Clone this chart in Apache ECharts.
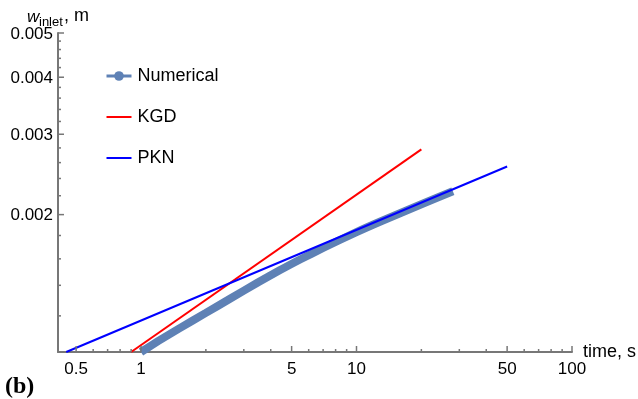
<!DOCTYPE html>
<html>
<head>
<meta charset="utf-8">
<script src="https://cdn.jsdelivr.net/npm/echarts@6/dist/echarts.min.js"></script>
<style>
  html, body { margin: 0; padding: 0; background: #fff; }
  #chart { width: 638px; height: 399px; }
</style>
</head>
<body>
<div id="chart"></div>
<script>
// inlet width (m) vs time (s), both axes log
const numerical = [[1.0, 0.001], [1.2, 0.001056], [1.5, 0.001125], [2, 0.001218], [2.6, 0.00131],
  [3.5, 0.001422], [4.4, 0.00151], [5.5, 0.001597], [7, 0.00169], [10, 0.001831],
  [13, 0.001934], [20, 0.002108], [28, 0.002251]];
const kgd = [[0.9, 0.001], [20, 0.00278]];
const pkn = [[0.45, 0.001], [50, 0.00255]];

const X_MIN = 0.412, X_MAX = 100;
const Y_MIN = 0.001, Y_MAX = 0.005;
const xMajorTicks = [0.5, 1, 5, 10, 50, 100];
const xMinorTicks = [0.6, 0.7, 0.8, 0.9, 2, 3, 4, 6, 7, 8, 9, 20, 30, 40, 60, 70, 80, 90];
const yMajorTicks = [0.002, 0.003, 0.004, 0.005];
const yMinorTicks = [0.0012, 0.0014, 0.0016, 0.0018, 0.0022, 0.0024, 0.0026, 0.0028,
  0.0032, 0.0034, 0.0036, 0.0038, 0.0042, 0.0044, 0.0046, 0.0048];

const AXIS = "#777777";
const FONT = '"Liberation Sans", Arial, sans-serif';

// log axes only give ticks at powers of 10, so ticks + labels go through a custom series
function tickSeries(axis, major, minor) {
  const items = major.map((v) => [v, 1]).concat(minor.map((v) => [v, 0]));
  return {
    type: "custom",
    silent: true,
    clip: false,
    z: 5,
    data: items.map((d) => (axis === "x" ? [d[0], Y_MIN, d[1]] : [X_MIN, d[0], d[1]])),
    encode: { x: 0, y: 1 },
    renderItem(params, api) {
      const isMajor = api.value(2) === 1;
      const v = axis === "x" ? api.value(0) : api.value(1);
      const p = api.coord([api.value(0), api.value(1)]);
      const len = isMajor ? 6 : 3;
      const children = [];
      if (axis === "x") {
        children.push({ type: "line", shape: { x1: p[0], y1: p[1], x2: p[0], y2: p[1] - len },
          style: { stroke: AXIS, lineWidth: 1.5 } });
        if (isMajor) children.push({ type: "text", x: p[0], y: p[1] + 9,
          style: { text: String(v), fill: "#000", font: "17px " + FONT, align: "center", verticalAlign: "top" } });
      } else {
        children.push({ type: "line", shape: { x1: p[0], y1: p[1], x2: p[0] + len, y2: p[1] },
          style: { stroke: AXIS, lineWidth: 1.5 } });
        if (isMajor) children.push({ type: "text", x: p[0] - 5, y: p[1] + 1,
          style: { text: String(v), fill: "#000", font: "17px " + FONT, align: "right", verticalAlign: "middle" } });
      }
      return { type: "group", children };
    },
  };
}

const chart = echarts.init(document.getElementById("chart"), null, { renderer: "canvas" });
const lineIcon = "path://M0,0L25,0L25,2L0,2Z";

chart.setOption({
  animation: false,
  backgroundColor: "#fff",
  textStyle: { fontFamily: FONT },
  grid: { left: 58, right: 66, top: 33, bottom: 47 },
  xAxis: {
    type: "log", min: X_MIN, max: X_MAX,
    axisLine: { lineStyle: { color: AXIS, width: 2 } },
    axisTick: { show: false }, axisLabel: { show: false }, splitLine: { show: false },
  },
  yAxis: {
    type: "log", min: Y_MIN, max: Y_MAX,
    axisLine: { lineStyle: { color: AXIS, width: 2 } },
    axisTick: { show: false }, axisLabel: { show: false }, splitLine: { show: false },
  },
  legend: {
    orient: "vertical", left: 100, top: 62,
    itemWidth: 25, itemHeight: 12, itemGap: 23,
    textStyle: { fontSize: 18, color: "#000", fontFamily: FONT, padding: [0, 0, 0, 1] },
    data: [
      { name: "Numerical", lineStyle: { width: 3 } },
      { name: "KGD", icon: lineIcon },
      { name: "PKN", icon: lineIcon },
    ],
  },
  graphic: [
    { type: "text", left: 27, top: 9, style: { text: "w", font: "italic 17px " + FONT, fill: "#000" } },
    { type: "text", left: 39, top: 16, style: { text: "inlet", font: "13px " + FONT, fill: "#000" } },
    { type: "text", left: 64, top: 7, style: { text: ", m", font: "18px " + FONT, fill: "#000" } },
    { type: "text", left: 583, top: 343, style: { text: "time, s", font: "18px " + FONT, fill: "#000" } },
    { type: "text", left: 5, top: 375, style: { text: "(b)", font: 'bold 24px "Liberation Serif", serif', fill: "#000" } },
  ],
  series: [
    {
      name: "Numerical", type: "line", data: numerical,
      smooth: 0.2, showSymbol: false, symbol: "circle",
      lineStyle: { width: 8, color: "#5e81b5" }, itemStyle: { color: "#5e81b5" }, z: 2,
    },
    {
      name: "KGD", type: "line", data: kgd, symbol: "none",
      lineStyle: { width: 2, color: "#ff0000" }, itemStyle: { color: "#ff0000" }, z: 3,
    },
    {
      name: "PKN", type: "line", data: pkn, symbol: "none",
      lineStyle: { width: 2, color: "#0000ff" }, itemStyle: { color: "#0000ff" }, z: 4,
    },
    tickSeries("x", xMajorTicks, xMinorTicks),
    tickSeries("y", yMajorTicks, yMinorTicks),
  ],
});
</script>
</body>
</html>
